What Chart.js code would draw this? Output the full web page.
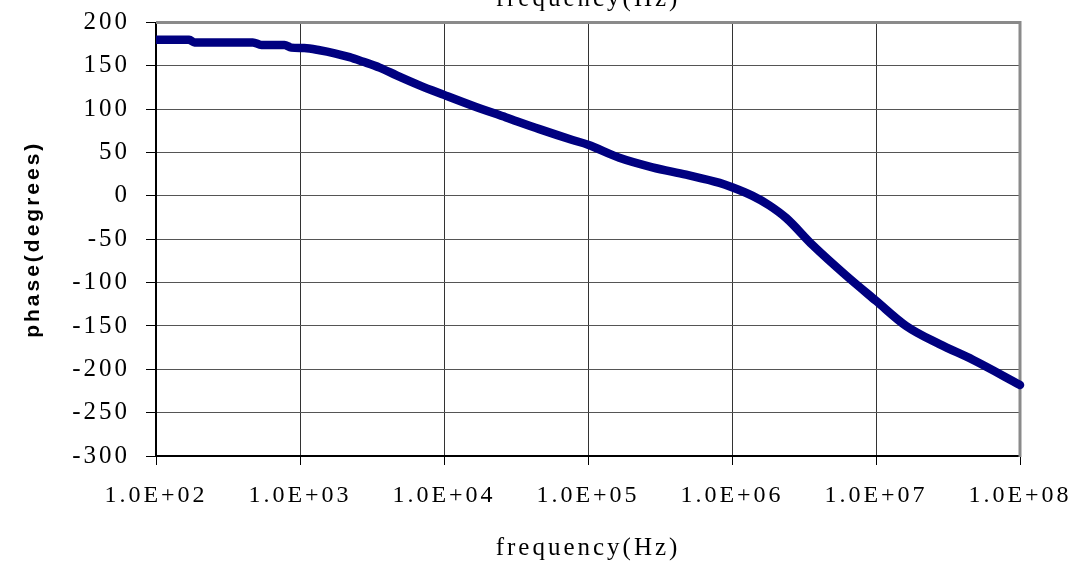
<!DOCTYPE html>
<html>
<head>
<meta charset="utf-8">
<title>phase vs frequency</title>
<script src="https://cdn.jsdelivr.net/npm/chart.js@4/dist/chart.umd.min.js"></script>
<style>
  html, body { margin: 0; padding: 0; background: #ffffff; }
  #wrap { width: 1092px; height: 562px; }
  canvas { display: block; }
</style>
</head>
<body>
<div id="wrap"><canvas id="phaseChart" width="1092" height="562"></canvas></div>
<script>
// Measured phase response (frequency in Hz, phase in degrees)
const freqHz = [
  100, 170, 185, 470, 540, 780, 870, 1070, 1370, 1740,
  2210, 2720, 3570, 4680, 6760, 10000, 15800, 27000, 46000, 78000,
  100000, 165000, 280000, 480000, 820000, 1000000, 1390000, 1820000, 2380000, 3640000,
  6210000, 10000000, 16200000, 27600000, 47000000, 100000000
];
const phaseDeg = [
  180, 180, 177, 177, 174, 174, 171, 170.5, 168, 164.5,
  160, 155, 148, 139, 127.5, 116.5, 104, 90.5, 77, 64.5,
  59, 44, 33, 24.5, 15, 10, 0, -11, -25.5, -57,
  -92, -121, -150, -171, -189, -218
];

// Axis ticks
const xTickValues = [1e2, 1e3, 1e4, 1e5, 1e6, 1e7, 1e8];
const xTickLabels = ['1.0E+02', '1.0E+03', '1.0E+04', '1.0E+05', '1.0E+06', '1.0E+07', '1.0E+08'];
const yTickLabels = ['-300', '-250', '-200', '-150', '-100', '-50', '0', '50', '100', '150', '200'];

const points = freqHz.map((f, i) => ({ x: f, y: phaseDeg[i] }));

// Wider glyph spacing for all chart text
const textSpacing = {
  id: 'textSpacing',
  beforeUpdate(chart) { chart.ctx.letterSpacing = '3px'; },
  beforeDraw(chart) { chart.ctx.letterSpacing = '3px'; }
};

// Grey frame along the top and right edges of the plot area
const plotFrame = {
  id: 'plotFrame',
  beforeDatasetsDraw(chart) {
    const { ctx, chartArea: a } = chart;
    ctx.save();
    ctx.strokeStyle = '#8a8a8a';
    ctx.lineWidth = 3;
    ctx.beginPath();
    ctx.moveTo(a.left, a.top);
    ctx.lineTo(a.right, a.top);
    ctx.lineTo(a.right, a.bottom + 1);
    ctx.stroke();
    ctx.restore();
  }
};

// Fixed axis boxes: no extra edge padding reserved for end labels
function noEdgePadding(scale) {
  scale.paddingTop = 0;
  scale.paddingBottom = 0;
  scale.paddingLeft = 0;
  scale.paddingRight = 0;
}

Chart.defaults.font.family = "'Liberation Serif', 'Times New Roman', serif";
Chart.defaults.color = '#000000';

new Chart(document.getElementById('phaseChart'), {
  type: 'line',
  data: {
    datasets: [{
      data: points,
      borderColor: '#000080',
      backgroundColor: '#000080',
      borderWidth: 8.5,
      borderCapStyle: 'round',
      borderJoinStyle: 'round',
      cubicInterpolationMode: 'monotone',
      pointRadius: 0,
      fill: false,
      clip: { left: 0, top: 10, right: 6, bottom: 10 }
    }]
  },
  options: {
    responsive: false,
    animation: false,
    devicePixelRatio: 1,
    layout: { padding: { left: 0, right: 72, top: 0, bottom: 0 } },
    plugins: {
      legend: { display: false },
      tooltip: { enabled: false },
      title: {
        display: true,
        text: 'frequency(Hz)',
        fullSize: false,
        color: '#000000',
        font: { size: 25, weight: 'normal' },
        padding: { top: -15.4, bottom: 7.9 }
      }
    },
    scales: {
      x: {
        type: 'logarithmic',
        min: 100,
        max: 100000000,
        afterBuildTicks(scale) {
          scale.ticks = xTickValues.map(v => ({ value: v }));
        },
        afterFit(scale) { scale.height = 106; noEdgePadding(scale); },
        ticks: {
          autoSkip: false,
          maxRotation: 0,
          minRotation: 0,
          padding: 16,
          font: { size: 24 },
          color: '#000000',
          callback: (value, index) => xTickLabels[index]
        },
        grid: {
          color: '#333333',
          lineWidth: 1,
          tickLength: 9,
          tickColor: '#000000'
        },
        border: { display: true, color: '#000000', width: 2 },
        title: {
          display: true,
          text: 'frequency(Hz)',
          color: '#000000',
          font: { size: 25 },
          padding: { top: 0, bottom: -1 }
        }
      },
      y: {
        type: 'linear',
        min: -300,
        max: 200,
        afterFit(scale) { scale.width = 156; noEdgePadding(scale); },
        ticks: {
          stepSize: 50,
          padding: 16,
          font: { size: 25 },
          color: '#000000',
          callback: (value, index) => yTickLabels[index]
        },
        grid: {
          color: '#555555',
          lineWidth: 1,
          tickLength: 10,
          tickColor: '#000000'
        },
        border: { display: true, color: '#000000', width: 2 },
        title: {
          display: true,
          text: 'phase(degrees)',
          color: '#000000',
          font: { family: "'Liberation Sans', Arial, sans-serif", size: 21, weight: 'bold' },
          padding: { top: 21, bottom: 0 }
        }
      }
    }
  },
  plugins: [textSpacing, plotFrame]
});
</script>
</body>
</html>
